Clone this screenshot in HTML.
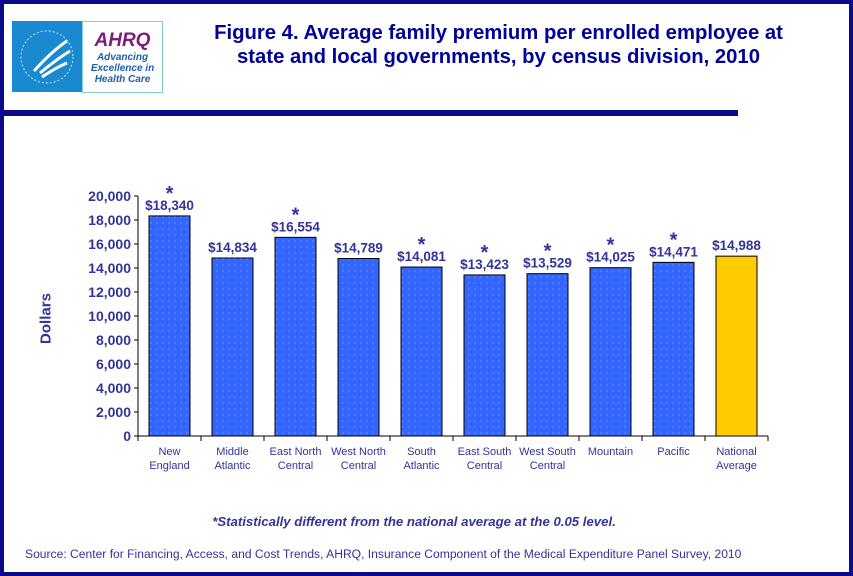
<!DOCTYPE html>
<html><head><meta charset="utf-8"><style>
body{margin:0;width:853px;height:576px;overflow:hidden;background:#fff;font-family:"Liberation Sans",Arial,sans-serif}
#frame{position:absolute;left:0;top:0;width:845px;height:568px;border:4px solid #0a0a8c}
</style></head><body>
<div id="frame"></div>
<div style="position:absolute;left:12px;top:21px;width:70px;height:71px;background:#1a8ad0"></div>
<svg style="position:absolute;left:12px;top:21px" width="70" height="71"><circle cx="35" cy="36" r="26" fill="none" stroke="#cfe8f8" stroke-width="1" stroke-dasharray="2 2"/><path d="M22 50 Q40 30 55 20 M28 52 Q45 38 58 30 M30 56 Q45 46 55 42" stroke="#fff" stroke-width="3" fill="none"/></svg>
<div style="position:absolute;left:82px;top:21px;width:79px;height:70px;border:1px solid #8cc;background:#fff;text-align:center">
<div style="color:#7a1d7a;font-weight:bold;font-style:italic;font-size:19px;margin-top:8px">AHRQ</div>
<div style="color:#1a5fb0;font-style:italic;font-weight:bold;font-size:10px;line-height:11px">Advancing<br>Excellence in<br>Health Care</div></div>
<div style="position:absolute;left:190px;top:21px;width:617px;text-align:center;color:#000099;font-weight:bold;font-size:20.3px;line-height:24px">Figure 4. Average family premium per enrolled employee at<br>state and local governments, by census division, 2010</div>
<div style="position:absolute;left:4px;top:110px;width:734px;height:6px;background:#0a0a8c"></div>
<svg id="chart" width="853" height="576" style="position:absolute;left:0;top:0">
<defs><pattern id="dots" width="6" height="6" patternUnits="userSpaceOnUse"><rect width="6" height="6" fill="#3366ff"/><circle cx="1" cy="1" r="0.6" fill="#8fb0ff"/></pattern></defs>
</svg>
<div style="position:absolute;left:26px;top:310px;transform:rotate(-90deg);transform-origin:center;color:#333399;font-weight:bold;font-size:15px;width:60px;text-align:center;margin-left:-10px">Dollars</div>
<div style="position:absolute;left:0;top:514px;width:828px;text-align:center;color:#333399;font-weight:bold;font-style:italic;font-size:13.2px">*Statistically different from the national average at the 0.05 level.</div>
<div style="position:absolute;left:25px;top:547px;color:#333399;font-size:12.1px">Source: Center for Financing, Access, and Cost Trends, AHRQ, Insurance Component of the Medical Expenditure Panel Survey, 2010</div>
<script>
const categories=[["New","England"],["Middle","Atlantic"],["East North","Central"],["West North","Central"],["South","Atlantic"],["East South","Central"],["West South","Central"],["Mountain"],["Pacific"],["National","Average"]];
const values=[18340,14834,16554,14789,14081,13423,13529,14025,14471,14988];
const significant=[true,false,true,false,true,true,true,true,true,false];
const yTicks=[0,2000,4000,6000,8000,10000,12000,14000,16000,18000,20000];
const NS="http://www.w3.org/2000/svg",svg=document.getElementById('chart');
const x0=138,y0=436,yTop=196,band=63,bw=41;
const y=v=>y0-(v/20000)*(y0-yTop);
const xc=i=>x0+band*i+band/2;
function mk(t,a,txt){const e=document.createElementNS(NS,t);for(const k in a)e.setAttribute(k,a[k]);if(txt!=null)e.textContent=txt;svg.appendChild(e);return e;}
let ax=mk('line',{x1:x0,y1:yTop,x2:x0,y2:y0,stroke:'#000'});


let bx=mk('line',{x1:x0,y1:y0,x2:x0+band*categories.length,y2:y0,stroke:'#000'});


yTicks.forEach(t=>{
 mk('line',{x1:x0-4,x2:x0,y1:y(t),y2:y(t),stroke:'#000'});
 const l=mk('text',{x:x0-7,y:y(t)+5,'text-anchor':'end','font-size':14,'font-weight':'bold',fill:'#333399'},t.toLocaleString('en-US'));
 
 
});
for(let i=0;i<=categories.length;i++)mk('line',{x1:x0+band*i,x2:x0+band*i,y1:y0,y2:y0+5,stroke:'#000'});
values.forEach((v,i)=>{
 const last=i===values.length-1;
 const r=mk('rect',{x:xc(i)-bw/2,y:y(v),width:bw,height:y0-y(v),fill:last?'#ffcc00':'url(#dots)',stroke:'#000','stroke-width':1});
 
 
 const t=mk('text',{x:xc(i),y:y(v)-6,'text-anchor':'middle','font-size':13.5,'font-weight':'bold',fill:'#333399'},'$'+v.toLocaleString('en-US'));
 
 
 if(significant[i]){const s=mk('text',{x:xc(i),y:y(v)-16,'text-anchor':'middle','font-size':20,'font-weight':'bold',fill:'#333399'},'*');
 
 }
 categories[i].forEach((ln,j)=>{const c=mk('text',{x:xc(i),y:y0+19+j*14,'text-anchor':'middle','font-size':11,fill:'#333399'},ln);
 
 });
});
</script>
</body></html>
